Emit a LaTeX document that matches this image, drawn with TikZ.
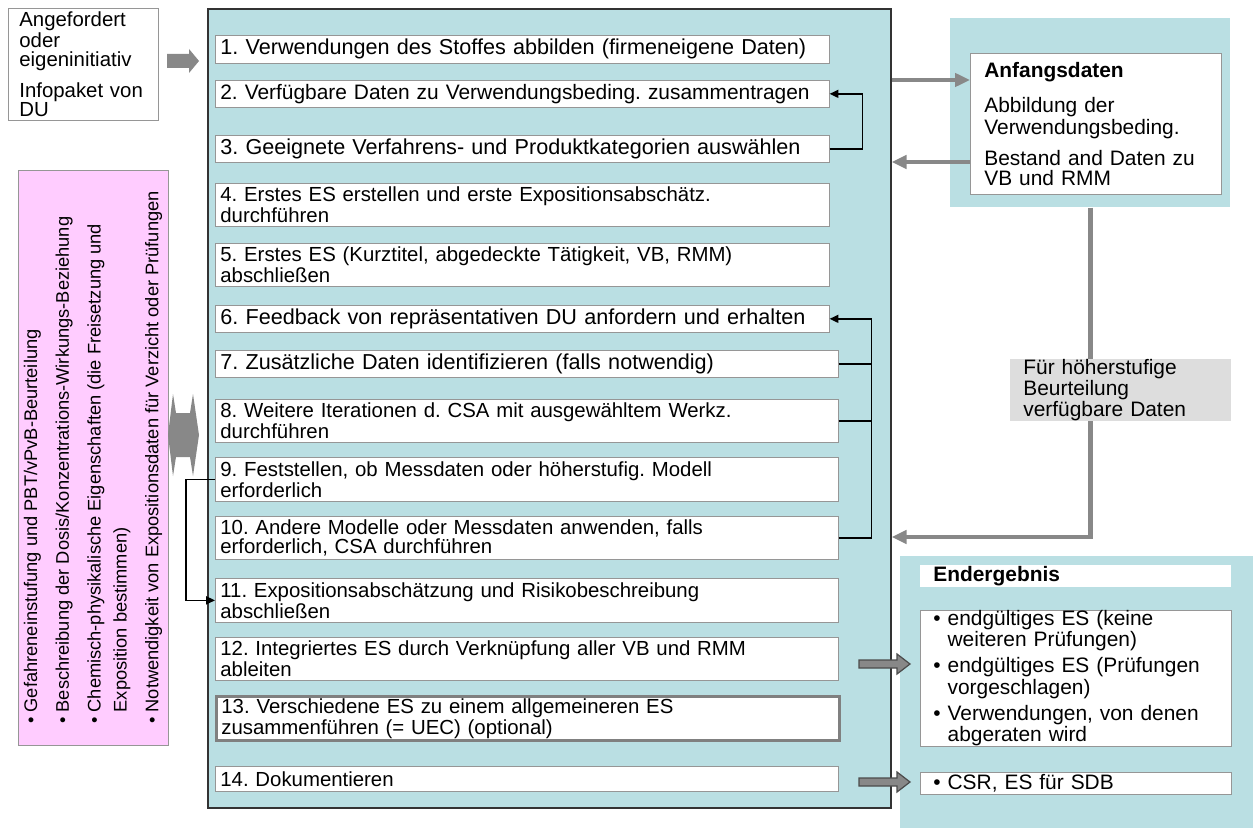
\documentclass[tikz,border=0pt]{standalone}
\usepackage{fontspec}
\setmainfont{Liberation Sans}
\usetikzlibrary{arrows.meta, positioning, calc}
\definecolor{csateal}{RGB}{186,223,227}
\definecolor{propspink}{RGB}{255,204,255}
\definecolor{boxgray}{RGB}{150,150,150}
\definecolor{fatgray}{RGB}{136,136,136}
\definecolor{labelgray}{RGB}{221,221,221}
\lineskiplimit=-\maxdimen
\frenchspacing
\newcommand\steptext{\fontsize{11.6pt}{10.8pt}\selectfont}
\newcommand\bigstep{\fontsize{12.3pt}{10.8pt}\selectfont}
\newcommand\sidetext{\fontsize{11.9pt}{10.9pt}\selectfont}
\newcommand\pinktext{\fontsize{10.4pt}{14.7pt}\selectfont}
\tikzset{
  csaflow/.style={
	x=0.02cm, y=-0.02cm, % one unit is one pixel, y runs downwards
	font=\steptext, % Arial-like text everywhere
  },
  stepbox/.style={
	draw=boxgray, fill=white, % white step boxes with a grey rim
	anchor=north west, align=left,
	text width=12.08cm, inner xsep=0.1cm, inner ysep=0pt,
	minimum height=#1*0.02cm, % height given in pixels
  },
  stepwide/.style={stepbox=#1, text width=12.26cm}, % the wider steps 7 to 14
  tealpanel/.style={fill=csateal, anchor=north west, inner sep=0pt},
  whitebox/.style={draw=boxgray, fill=white, anchor=north west, align=left, inner ysep=0pt, font=\sidetext},
  grayconn/.style={draw=fatgray, line width=2.8pt, -{Triangle[length=8.5pt,width=7.5pt]}},
  fbline/.style={draw=black, line width=0.9pt},
  fbarrow/.style={fbline, -{Triangle[length=5pt,width=4.5pt]}},
  fatout/.style={fill=fatgray, draw=black!70, line width=0.7pt},
}
\begin{document}
\begin{tikzpicture}[csaflow]
	  \useasboundingbox (0,0) rectangle (1253,828);

	  % main chemical safety assessment panel
	  \node[tealpanel, draw=black!80, line width=1pt, minimum width=13.66cm, minimum height=15.98cm] (csa) at (207,8) {};

	  \node[stepbox=28, font=\bigstep] (s1) at (215,35) {1. Verwendungen des Stoffes abbilden (firmeneigene Daten)};
	  \node[stepbox=27, font=\sidetext] (s2) at (215,80) {2. Verfügbare Daten zu Verwendungsbeding. zusammentragen};
	  \node[stepbox=27, font=\bigstep] (s3) at (215,135) {3. Geeignete Verfahrens- und Produktkategorien auswählen};
	  \node[stepbox=43] (s4) at (215,183) {4. Erstes ES erstellen und erste Expositionsabschätz.\\durchführen};
	  \node[stepbox=43] (s5) at (215,243) {5. Erstes ES (Kurztitel, abgedeckte Tätigkeit, VB, RMM)\\abschließen};
	  \node[stepbox=27, font=\bigstep] (s6) at (215,305) {6. Feedback von repräsentativen DU anfordern und erhalten};
	  \node[stepwide=27, font=\bigstep] (s7) at (215,350) {7. Zusätzliche Daten identifizieren (falls notwendig)};
	  \node[stepwide=43] (s8) at (215,399) {8. Weitere Iterationen d. CSA mit ausgewähltem Werkz.\\durchführen};
	  \node[stepwide=44] (s9) at (215,457) {9. Feststellen, ob Messdaten oder höherstufig. Modell\\erforderlich};
	  \node[stepwide=43] (s10) at (215,516) {10. Andere Modelle oder Messdaten anwenden, falls\\erforderlich, CSA durchführen};
	  \node[stepwide=44] (s11) at (215,578) {11. Expositionsabschätzung und Risikobeschreibung\\abschließen};
	  \node[stepwide=43] (s12) at (215,637) {12. Integriertes ES durch Verknüpfung aller VB und RMM\\ableiten};
	  \node[stepwide=44, draw=gray, line width=1.6pt] (s13) at (215,695) {13. Verschiedene ES zu einem allgemeineren ES\\zusammenführen (= UEC) (optional)};
	  \node[stepwide=25] (s14) at (215,766) {14. Dokumentieren};

	  % request box and input arrow
	  \node[whitebox, minimum width=3cm, minimum height=2.24cm, text width=2.56cm, inner xsep=0.22cm, font=\steptext] (req) at (8,8)
		  {Angefordert\\oder\\eigeninitiativ\\[6pt]\mbox{Infopaket von}\\DU};
	  \fill[fatgray] (167,54) -- (189,54) -- (189,49) -- (199,61) -- (189,73) -- (189,68) -- (167,68) -- cycle;

	  % substance properties
	  \node[draw=boxgray, fill=propspink, rotate=90, minimum width=11.5cm, minimum height=3cm,
		  align=left, font=\pinktext, inner sep=0pt] (props) at (93,457.5)
		  {• Gefahreneinstufung und PBT/vPvB-Beurteilung\\[3.4pt]
		   • Beschreibung der Dosis/Konzentrations-Wirkungs-Beziehung\\[3.4pt]
		   • Chemisch-physikalische Eigenschaften (die Freisetzung und\\
		   \phantom{• }Exposition bestimmen)\\[3.4pt]
		   • Notwendigkeit von Expositionsdaten für Verzicht oder Prüfungen};
	  \fill[fatgray] (168,435) -- (173,394) -- (176,413) -- (190,413) -- (193,394) -- (199,435)
		  -- (193,476) -- (190,457) -- (176,457) -- (173,476) -- cycle;

	  % initial data
	  \node[tealpanel, minimum width=5.6cm, minimum height=3.78cm] (anf) at (950,18) {};
	  \node[whitebox, minimum width=5.02cm, minimum height=2.82cm, text width=4.46cm, inner xsep=0.28cm] (anfin) at (970,53)
		  {\textbf{Anfangsdaten}\\[8pt]Abbildung der\\Verwendungsbeding.\\[6pt]Bestand and Daten zu\\VB und RMM};

	  \draw[grayconn] (csa.east |- 0,80) -- (anfin.west |- 0,80);
	  \draw[grayconn] (anfin.west |- 0,162) -- (csa.east |- 0,162);
	  \draw[grayconn] (anf.south) |- (csa.east |- 0,537);
	  \node[fill=labelgray, anchor=north west, align=left, minimum width=4.42cm, minimum height=1.2cm,
		  text width=3.9cm, inner xsep=0.26cm, inner ysep=0pt, font=\sidetext] (hf) at (1010,359)
		  {Für höherstufige\\Beurteilung\\verfügbare Daten};

	  % final result
	  \node[tealpanel, minimum width=7.06cm, minimum height=5.44cm] (endg) at (900,556) {};
	  \node[fill=white, anchor=north west, align=left, minimum width=6.22cm, minimum height=0.44cm,
		  text width=5.7cm, inner xsep=0.26cm, inner ysep=0pt, font=\sidetext] (endhd) at (920,565) {\textbf{Endergebnis}};
	  \node[whitebox, minimum width=6.22cm, minimum height=2.68cm, text width=5.7cm, inner xsep=0.26cm] (endres) at (920,610)
		  {• endgültiges ES (keine\\\phantom{• }weiteren Prüfungen)\\[2.8pt]
		   • endgültiges ES (Prüfungen\\\phantom{• }vorgeschlagen)\\[2.8pt]
		   • Verwendungen, von denen\\\phantom{• }abgeraten wird};
	  \node[whitebox, minimum width=6.22cm, minimum height=0.44cm, text width=5.7cm, inner xsep=0.26cm] (endsdb) at (920,772)
		  {• CSR, ES für SDB};
	  \draw[fatout] (859,660) -- (897,660) -- (897,654) -- (910,664) -- (897,674) -- (897,668) -- (859,668) -- cycle;
	  \draw[fatout] (859,778) -- (897,778) -- (897,772) -- (910,782) -- (897,792) -- (897,786) -- (859,786) -- cycle;

	  % feedback loops
	  \draw[fbarrow] (s3.east) -- ++(33,0) |- (s2.east);
	  \draw[fbarrow] (s10.east) -- ++(33,0) |- (s6.east);
	  \draw[fbline] (s7.east) -- ++(33,0);
	  \draw[fbline] (s8.east) -- ++(33,0);
	  \draw[fbarrow] (s9.west) -- ++(-29,0) |- (s11.west);
\end{tikzpicture}
\end{document}
